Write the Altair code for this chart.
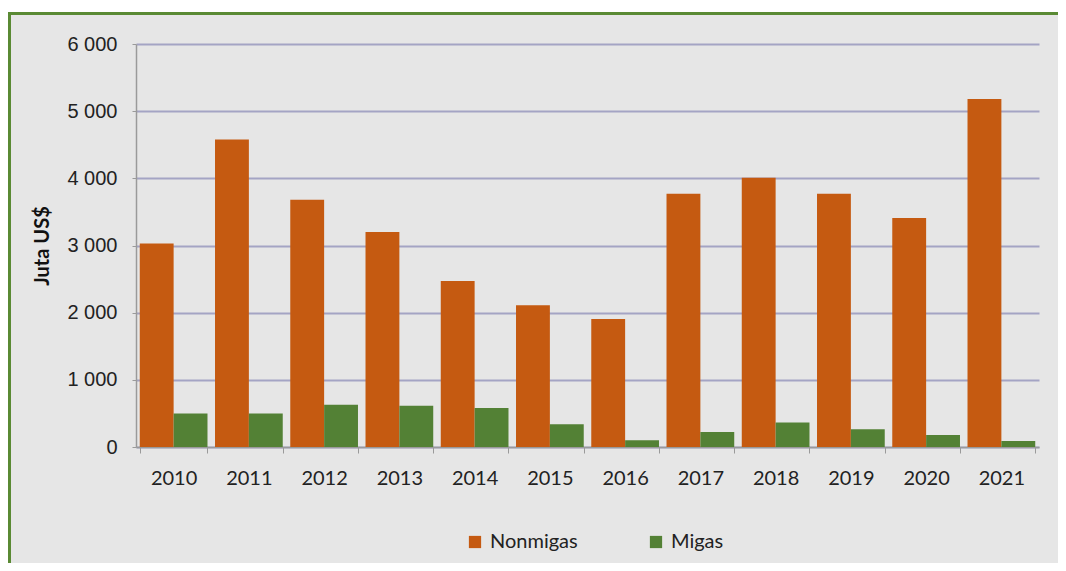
import altair as alt
import pandas as pd

years = ["2010", "2011", "2012", "2013", "2014", "2015",
         "2016", "2017", "2018", "2019", "2020", "2021"]
nonmigas = [3030, 4580, 3680, 3200, 2470, 2110, 1905, 3770, 4010, 3770, 3410, 5180]
migas = [500, 500, 630, 615, 580, 340, 100, 225, 365, 265, 178, 90]
series = ["Nonmigas", "Migas"]
colors = ["#C55A11", "#538135"]
y_ticks = [0, 1000, 2000, 3000, 4000, 5000, 6000]

rows = []
for i, yr in enumerate(years):
    rows.append({"Tahun": yr, "Seri": "Nonmigas", "Nilai": nonmigas[i]})
    rows.append({"Tahun": yr, "Seri": "Migas", "Nilai": migas[i]})
df = pd.DataFrame(rows)

W, H = 903, 403

deco = alt.Data(values=[{"k": 1}])
top_strip = alt.Chart(deco).mark_rect(fill="white").encode(
    x=alt.value(-140), x2=alt.value(W + 200),
    y=alt.value(-40), y2=alt.value(-32)
)
frame = alt.Chart(deco).mark_rect(
    fill="transparent", stroke="#5A8A34", strokeWidth=3
).encode(
    x=alt.value(-126.5), x2=alt.value(W + 200),
    y=alt.value(-30.5), y2=alt.value(H + 300)
)

bars = alt.Chart(df).mark_bar().encode(
    x=alt.X("Tahun:N", sort=years,
            scale=alt.Scale(paddingInner=0.1, paddingOuter=0.05),
            axis=alt.Axis(title=None, labelAngle=0, labelFont="Lato",
                          labelFontSize=20, labelColor="#222222",
                          tickBand="extent", tickSize=6, labelPadding=15,
                          domainColor="#9A9A9A", tickColor="#9A9A9A",
                          domainWidth=1.5, grid=False)),
    xOffset=alt.XOffset("Seri:N", sort=series,
                        scale=alt.Scale(paddingInner=0, paddingOuter=0)),
    y=alt.Y("Nilai:Q", scale=alt.Scale(domain=[0, 6000]),
            axis=alt.Axis(title="Juta US$", values=y_ticks,
                          labelExpr="replace(format(datum.value, ','), ',', ' ')",
                          labelFont="Liberation Sans",
                          labelFontSize=20, labelColor="#222222",
                          tickSize=4, labelPadding=15,
                          domainColor="#9A9A9A", tickColor="#9A9A9A",
                          domainWidth=1.5,
                          gridColor="#A4A4C4", gridWidth=2,
                          titleFont="Lato", titleFontSize=20,
                          titleFontWeight="bold", titleColor="#111111",
                          titlePadding=14)),
    color=alt.Color("Seri:N", sort=series,
                    scale=alt.Scale(domain=series, range=colors),
                    legend=alt.Legend(orient="none", legendX=329, legendY=488,
                                      direction="horizontal", title=None,
                                      symbolType="square", symbolSize=150,
                                      symbolStrokeWidth=0,
                                      labelFont="Lato", labelFontSize=20,
                                      labelColor="#222222", labelOffset=5,
                                      columnPadding=68))
)

chart = alt.layer(top_strip, frame, bars).properties(
    width=W, height=H,
    autosize=alt.AutoSizeParams(type="none"),
    padding={"left": 128, "top": 36, "right": 19, "bottom": 116},
    background="#E6E6E6"
).configure_view(stroke=None)

chart.save("out.html", embed_options={"renderer": "svg", "actions": False})
